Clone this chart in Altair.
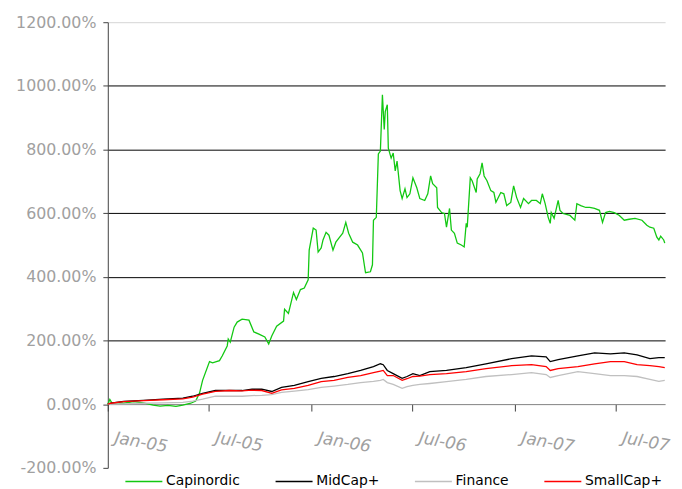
import altair as alt
import pandas as pd

series_names = ["Capinordic", "MidCap+", "Finance", "SmallCap+"]
series_colors = ["#12c812", "#000000", "#c0c0c0", "#ff0000"]

# Capinordic (decimal years, percent)
cap_years = [
    2005.000, 2005.010, 2005.019, 2005.078, 2005.126, 2005.175, 2005.223, 2005.257, 2005.296, 2005.335,
    2005.369, 2005.408, 2005.432, 2005.451, 2005.466, 2005.500, 2005.515, 2005.549, 2005.563, 2005.587,
    2005.592, 2005.602, 2005.621, 2005.636, 2005.660, 2005.694, 2005.718, 2005.743, 2005.772, 2005.791,
    2005.806, 2005.830, 2005.864, 2005.869, 2005.888, 2005.913, 2005.927, 2005.947, 2005.966, 2005.985,
    2005.990, 2006.010, 2006.024, 2006.034, 2006.049, 2006.058, 2006.073, 2006.087, 2006.107, 2006.121,
    2006.136, 2006.155, 2006.170, 2006.184, 2006.204, 2006.228, 2006.252, 2006.267, 2006.291, 2006.301,
    2006.306, 2006.320, 2006.330, 2006.340, 2006.350, 2006.359, 2006.364, 2006.374, 2006.379, 2006.393,
    2006.403, 2006.413, 2006.422, 2006.437, 2006.447, 2006.461, 2006.471, 2006.485, 2006.500, 2006.519,
    2006.534, 2006.558, 2006.573, 2006.587, 2006.597, 2006.617, 2006.621, 2006.641, 2006.655, 2006.665,
    2006.680, 2006.689, 2006.704, 2006.718, 2006.738, 2006.752, 2006.762, 2006.767, 2006.782, 2006.791,
    2006.811, 2006.816, 2006.830, 2006.840, 2006.850, 2006.864, 2006.883, 2006.898, 2006.908, 2006.932,
    2006.947, 2006.961, 2006.981, 2006.995, 2007.010, 2007.029, 2007.044, 2007.068, 2007.083, 2007.107,
    2007.126, 2007.136, 2007.150, 2007.165, 2007.175, 2007.180, 2007.194, 2007.214, 2007.223, 2007.238,
    2007.272, 2007.296, 2007.306, 2007.325, 2007.350, 2007.369, 2007.393, 2007.417, 2007.432, 2007.447,
    2007.466, 2007.490, 2007.515, 2007.539, 2007.563, 2007.592, 2007.626, 2007.650, 2007.665, 2007.684,
    2007.699, 2007.709, 2007.718, 2007.733, 2007.738,
]
cap_values = [
    0, 15, 5, 3, 8, 4, -3, -6, -4, -7,
    -3, 3, 10, 35, 75, 134, 130, 137, 152, 183,
    205, 195, 242, 258, 267, 264, 227, 220, 211, 189,
    214, 245, 261, 298, 285, 351, 329, 360, 365, 391,
    484, 553, 547, 478, 491, 516, 540, 531, 484, 509,
    522, 537, 571, 537, 509, 500, 475, 413, 416, 438,
    578, 587, 786, 795, 972, 863, 919, 941, 804, 773,
    789, 733, 764, 671, 646, 677, 649, 661, 711, 680,
    646, 640, 661, 717, 693, 680, 618, 602, 599, 556,
    615, 547, 537, 506, 500, 494, 568, 556, 711, 702,
    665, 708, 724, 758, 717, 702, 671, 665, 634, 665,
    661, 624, 634, 686, 649, 618, 646, 630, 640, 640,
    630, 661, 630, 587, 568, 602, 584, 640, 609, 599,
    593, 578, 630, 624, 618, 618, 615, 609, 571, 602,
    606, 602, 593, 578, 581, 584, 578, 562, 556, 553,
    525, 516, 528, 516, 506,
]

# Index series share one set of dates
idx_years = [
    2005.000, 2005.015, 2005.078, 2005.175, 2005.272, 2005.369, 2005.417, 2005.466, 2005.529, 2005.597,
    2005.660, 2005.709, 2005.757, 2005.806, 2005.854, 2005.917, 2005.985, 2006.049, 2006.112, 2006.180,
    2006.243, 2006.306, 2006.340, 2006.354, 2006.374, 2006.403, 2006.447, 2006.471, 2006.500, 2006.534,
    2006.583, 2006.665, 2006.762, 2006.859, 2006.985, 2007.083, 2007.155, 2007.175, 2007.214, 2007.311,
    2007.393, 2007.471, 2007.539, 2007.602, 2007.665, 2007.709, 2007.738,
]
midcap_values = [
    0, 3, 9, 12, 16, 19, 25, 34, 43, 43,
    43, 47, 47, 40, 53, 59, 71, 81, 87, 96,
    106, 118, 127, 124, 106, 96, 81, 87, 96, 90,
    102, 106, 115, 127, 143, 152, 149, 134, 140, 152,
    161, 158, 161, 155, 143, 146, 146,
]
finance_values = [
    0, 0, 1, 3, 4, 6, 10, 16, 25, 25,
    25, 27, 28, 30, 37, 41, 46, 53, 57, 62,
    68, 72, 75, 78, 68, 62, 50, 55, 59, 62,
    65, 71, 78, 87, 93, 99, 93, 84, 90, 102,
    96, 90, 90, 87, 78, 72, 75,
]
smallcap_values = [
    0, 3, 8, 11, 14, 17, 22, 32, 40, 43,
    42, 44, 43, 34, 45, 50, 59, 71, 75, 84,
    90, 99, 104, 106, 90, 90, 75, 80, 87, 88,
    93, 96, 102, 112, 121, 124, 118, 106, 112, 118,
    127, 134, 134, 124, 121, 118, 115,
]

y_ticks = [-200, 0, 200, 400, 600, 800, 1000, 1200]


def to_date(y):
    yr = int(y)
    start = pd.Timestamp(year=yr, month=1, day=1)
    end = pd.Timestamp(year=yr + 1, month=1, day=1)
    return start + (end - start) * (y - yr)


rows = []
for yv, v in zip(cap_years, cap_values):
    rows.append({"series": "Capinordic", "date": to_date(yv), "value": v})
for name, vals in [("MidCap+", midcap_values), ("Finance", finance_values), ("SmallCap+", smallcap_values)]:
    for yv, v in zip(idx_years, vals):
        rows.append({"series": name, "date": to_date(yv), "value": v})
df = pd.DataFrame(rows)

x_ticks = [alt.DateTime(year=y, month=m, date=1) for y, m in
           [(2005, 1), (2005, 7), (2006, 1), (2006, 7), (2007, 1), (2007, 7)]]

chart = alt.Chart(df).mark_line(strokeWidth=1.3).encode(
    x=alt.X(
        "date:T",
        scale=alt.Scale(domain=[alt.DateTime(year=2005, month=1, date=1),
                                alt.DateTime(year=2007, month=9, date=28)]),
        axis=alt.Axis(
            values=x_ticks, format="%b-%y", title=None, grid=False,
            labelAngle=10, labelAlign="left", labelBaseline="top",
            labelFont="DejaVu Sans", labelFontStyle="italic", labelFontSize=17,
            labelColor="#a0a0a0", labelPadding=19, labelOffset=8,
            labelFlush=False, labelOverlap=False,
            tickSize=7, tickColor="#404040", domainColor="#808080",
            offset=-64.5,
        ),
    ),
    y=alt.Y(
        "value:Q",
        scale=alt.Scale(domain=[-200, 1200], nice=False),
        axis=alt.Axis(
            values=y_ticks, title=None,
            labelExpr="(datum.value < 0 ? '-' : '') + format(abs(datum.value), '.2f') + '%'",
            labelFont="DejaVu Sans", labelFontSize=16, labelColor="#a0a0a0",
            labelPadding=7, tickSize=5, tickColor="#404040", domainColor="#404040",
            grid=True,
            gridColor={"condition": {"test": "datum.value === 1200", "value": "#d4d4d4"}, "value": "#000000"},
            gridOpacity={"condition": {"test": "datum.value <= 0", "value": 0}, "value": 1},
        ),
    ),
    color=alt.Color(
        "series:N",
        scale=alt.Scale(domain=series_names, range=series_colors),
        legend=alt.Legend(
            title=None, orient="none", legendX=17, legendY=445, direction="horizontal",
            symbolType="stroke", symbolSize=1400, symbolStrokeWidth=1.5,
            labelFont="DejaVu Sans", labelFontSize=14, labelColor="#000000",
            columnPadding=32, labelOffset=3,
        ),
    ),
).properties(
    width=564, height=451,
    padding={"left": 101, "top": 11.5, "right": 9, "bottom": 18.5},
    autosize=alt.AutoSizeParams(type="none"),
).configure_view(stroke=None)

chart.save("out.html", embed_options={"renderer": "svg", "actions": False})
